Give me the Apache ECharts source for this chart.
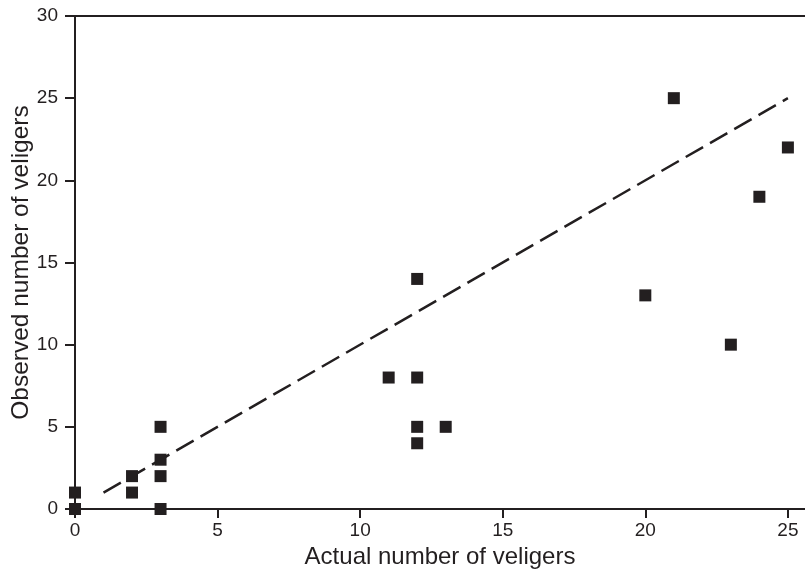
<!DOCTYPE html>
<html>
<head>
<meta charset="utf-8">
<script src="https://cdn.jsdelivr.net/npm/echarts@6/dist/echarts.min.js"></script>
<style>
  html, body { margin: 0; padding: 0; background: #fff; }
  #main { width: 805px; height: 573px; }
</style>
</head>
<body>
<div id="main"></div>
<script>
// observations (actual, observed)
var actual   = [0, 0, 2, 2, 3, 3, 3, 3, 11, 12, 12, 12, 12, 13, 20, 21, 23, 24, 25];
var observed = [0, 1, 2, 1, 5, 3, 2, 0, 8, 14, 8, 5, 4, 5, 13, 25, 10, 19, 22];
// 1:1 reference line
var lineX = [1, 25];
var lineY = [1, 25];

var ink = '#231f20';

var dom = document.getElementById('main');
var myChart = echarts.init(dom);

var points = actual.map(function (a, i) { return [a, observed[i]]; });
var linePts = lineX.map(function (a, i) { return [a, lineY[i]]; });

var option = {
  backgroundColor: '#fff',
  animation: false,
  textStyle: { fontFamily: 'Liberation Sans, Arial, sans-serif', color: ink },
  grid: { left: 75, right: 0, top: 16, bottom: 64, outerBoundsMode: 'none', containLabel: false },
  xAxis: [{
    type: 'value',
    min: 0,
    max: 25.6,
    interval: 5,
    name: 'Actual number of veligers',
    nameLocation: 'middle',
    nameMoveOverlap: false,
    nameGap: 36,
    nameTextStyle: { fontSize: 24, color: ink },
    axisLine: { lineStyle: { color: ink, width: 2 } },
    axisTick: { show: true, length: 9, lineStyle: { color: ink, width: 2 } },
    axisLabel: { fontSize: 19, color: ink, margin: 12, showMaxLabel: false },
    splitLine: { show: false }
  }, {
    type: 'value',
    position: 'top',
    min: 0,
    max: 25.6,
    axisLine: { show: true, onZero: false, lineStyle: { color: ink, width: 2 } },
    axisTick: { show: false },
    axisLabel: { show: false },
    splitLine: { show: false }
  }],
  yAxis: {
    type: 'value',
    min: 0,
    max: 30,
    interval: 5,
    name: 'Observed number of veligers',
    nameLocation: 'middle',
    nameMoveOverlap: false,
    nameGap: 41,
    nameTextStyle: { fontSize: 24.5, color: ink },
    axisLine: { show: true, lineStyle: { color: ink, width: 2 } },
    axisTick: { show: true, length: 10, lineStyle: { color: ink, width: 2 } },
    axisLabel: { fontSize: 19, color: ink, margin: 17 },
    splitLine: { show: false }
  },
  series: [
    {
      type: 'line',
      data: linePts,
      symbol: 'none',
      lineStyle: { color: ink, width: 2.5, type: [20, 8] },
      silent: true,
      z: 1
    },
    {
      type: 'scatter',
      data: points,
      symbol: 'rect',
      symbolSize: 12,
      itemStyle: { color: ink, opacity: 1 },
      z: 2
    }
  ]
};

window.onresize = function () {
  myChart.resize();
};

myChart.setOption(option);
</script>
</body>
</html>
